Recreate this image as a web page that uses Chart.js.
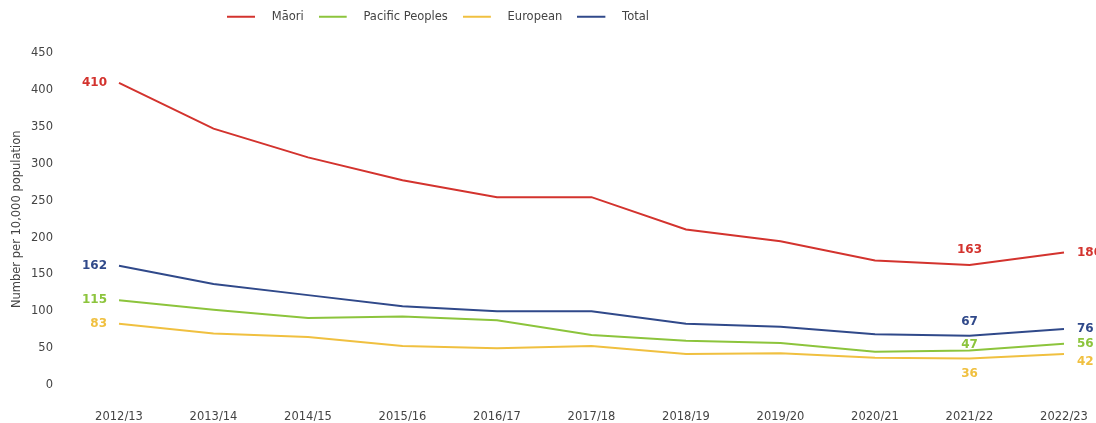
<!DOCTYPE html>
<html lang="en">
<head>
<meta charset="UTF-8">
<title>Number per 10,000 population</title>
<script src="https://cdn.jsdelivr.net/npm/chart.js@4.4.0/dist/chart.umd.min.js"></script>
<style>
  html, body { margin: 0; padding: 0; background: #fff; }
  #wrap { width: 1096px; height: 423px; }
</style>
</head>
<body>
<div id="wrap"><canvas id="myChart"></canvas></div>

<script>
var years = ['2012/13', '2013/14', '2014/15', '2015/16', '2016/17', '2017/18',
             '2018/19', '2019/20', '2020/21', '2021/22', '2022/23'];
var maori    = [410, 348, 309, 278, 255, 255, 211, 195, 169, 163, 180];
var pacific  = [115, 102, 91, 93, 88, 68, 60, 57, 45, 47, 56];
var european = [83, 70, 65, 53, 50, 53, 42, 43, 37, 36, 42];
var total    = [162, 137, 122, 107, 100, 100, 83, 79, 69, 67, 76];
var labelledPoints = [0, 9, 10];

(function(){
    var ctx = document.getElementById('myChart').getContext('2d');
    var font = "'DejaVu Sans', sans-serif";
    var textColor = '#444';

    // legend marker: 28px line followed by a gap, drawn into a small canvas
    function legendLine(color){
        var c = document.createElement('canvas');
        c.width = 39; c.height = 4;
        var g = c.getContext('2d');
        g.fillStyle = color;
        g.fillRect(0, 1, 28, 2);
        return c;
    }

    // vertical nudge of the value labels, per dataset: [first, 2021/22, last]
    var labelShift = [[0, -15, 0], [0, -6, 0], [0, 15, 8], [0, -14, 0]];

    var valueLabels = {
        id: 'valueLabels',
        afterDatasetsDraw: function(chart){
            var c = chart.ctx;
            c.save();
            c.font = 'bold 12px ' + font;
            c.textBaseline = 'middle';
            chart.data.datasets.forEach(function(ds, i){
                var pts = chart.getDatasetMeta(i).data;
                c.fillStyle = ds.borderColor;
                labelledPoints.forEach(function(idx, k){
                    var p = pts[idx];
                    var x = p.x, y = p.y + labelShift[i][k];
                    if (k === 0) { c.textAlign = 'right'; x -= 12; }
                    else if (k === 2) { c.textAlign = 'left'; x += 13; }
                    else { c.textAlign = 'center'; }
                    c.fillText(ds.data[idx], x, y);
                });
            });
            c.restore();
        }
    };

    // legend sits left of centre and higher than the plot area in the original
    var moveLegend = {
        id: 'moveLegend',
        afterLayout: function(chart){
            var lg = chart.legend;
            var pad = lg.options.labels.padding;
            var start = (lg.left + pad + lg.right - lg.lineWidths[0]) / 2;
            var dx = 227 - start;
            lg.left += dx; lg.right += dx;
            var dy = -4 - lg.top;
            lg.top += dy; lg.bottom += dy;
        }
    };

    new Chart(ctx, {
        type: 'line',
        data: {
            labels: years,
            datasets: [
                { label: 'Māori', data: maori, borderColor: '#d3332e', pointStyle: legendLine('#d3332e') },
                { label: 'Pacific Peoples', data: pacific, borderColor: '#8cc43c', pointStyle: legendLine('#8cc43c') },
                { label: 'European', data: european, borderColor: '#f0c040', pointStyle: legendLine('#f0c040') },
                { label: 'Total', data: total, borderColor: '#30498a', pointStyle: legendLine('#30498a') }
            ]
        },
        options: {
            responsive: true,
            maintainAspectRatio: false,
            animation: false,
            layout: { padding: { top: 17, right: 32, bottom: 2, left: 6 } },
            elements: {
                line: { borderWidth: 2, tension: 0 },
                point: { radius: 0, hoverRadius: 0 }
            },
            plugins: {
                legend: {
                    position: 'top',
                    labels: {
                        usePointStyle: true, pointStyleWidth: 39, padding: 15,
                        color: textColor, font: { family: font, size: 11.5 }
                    }
                },
                tooltip: { enabled: false }
            },
            scales: {
                x: {
                    grid: { display: false, drawTicks: false },
                    border: { display: false },
                    ticks: { color: textColor, padding: 25, font: { family: font, size: 11.5 }, maxRotation: 0, autoSkip: false },
                    afterFit: function(scale){
                        scale.height = 36;
                        scale.paddingLeft = 0; scale.paddingRight = 0;
                    }
                },
                y: {
                    min: 0, max: 450,
                    grid: { display: false, drawTicks: false },
                    border: { display: false },
                    ticks: { stepSize: 50, color: textColor, padding: 66, font: { family: font, size: 11.5 } },
                    title: { display: true, text: 'Number per 10,000 population', color: textColor,
                             font: { family: font, size: 11.5 }, padding: { top: 4, bottom: 0 } },
                    afterFit: function(scale){
                        scale.width = 113;
                        scale.paddingTop = 0; scale.paddingBottom = 0;
                    }
                }
            }
        },
        plugins: [valueLabels, moveLegend]
    });
})();
</script>
</body>
</html>
